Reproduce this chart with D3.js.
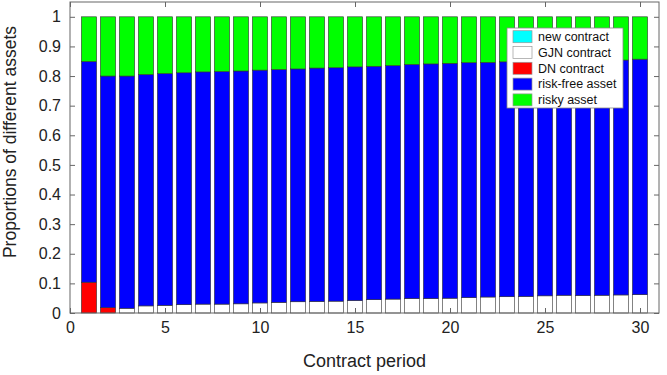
<!DOCTYPE html>
<html lang="en">
  <head>
    <meta charset="utf-8">
    <title>Proportions of different assets</title>
    <script type="text/javascript" src="https://cdn.jsdelivr.net/npm/d3@7"></script>
    <style>
      body { margin: 0; background: #fff; }
      text { font-family: "Liberation Sans", Arial, sans-serif; }
    </style>
  </head>
  <body>
    <script type="text/javascript">
    // contract periods 1..30
    var periods = d3.range(1, 31);

    // series values (bottom of stack first)
    var newContract = periods.map(function() { return 0; });
    var gjnContract = [0, 0, 0.016, 0.024, 0.026, 0.028, 0.030, 0.030, 0.031, 0.034,
                       0.036, 0.038, 0.039, 0.040, 0.042, 0.045, 0.047, 0.049, 0.049, 0.050,
                       0.052, 0.054, 0.055, 0.056, 0.058, 0.060, 0.059, 0.060, 0.061, 0.062];
    var dnContract = [0.104, 0.018, 0, 0, 0, 0, 0, 0, 0, 0,
                      0, 0, 0, 0, 0, 0, 0, 0, 0, 0,
                      0, 0, 0, 0, 0, 0, 0, 0, 0, 0];
    // top of the blue part (everything but the risky asset)
    var nonRisky = [0.849, 0.800, 0.800, 0.805, 0.808, 0.811, 0.814, 0.815, 0.817, 0.820,
                    0.822, 0.824, 0.827, 0.828, 0.831, 0.833, 0.835, 0.839, 0.841, 0.843,
                    0.845, 0.846, 0.848, 0.849, 0.850, 0.851, 0.852, 0.853, 0.854, 0.857];

    var seriesNames = ["new contract", "GJN contract", "DN contract", "risk-free asset", "risky asset"];
    var seriesColors = ["#00ffff", "#ffffff", "#ff0000", "#0000ff", "#00ff00"];

    var xTicks = [0, 5, 10, 15, 20, 25, 30];
    var yTicks = d3.range(0, 11).map(function(i) { return i / 10; });

    // build rows for the stack
    var rows = periods.map(function(p, i) {
      var riskFree = nonRisky[i] - newContract[i] - gjnContract[i] - dnContract[i];
      return {
        period: p,
        "new contract": newContract[i],
        "GJN contract": gjnContract[i],
        "DN contract": dnContract[i],
        "risk-free asset": riskFree,
        "risky asset": 1 - nonRisky[i]
      };
    });

    var w = 667;
    var h = 375;
    var padL = 70, padR = 659, padT = 2, padB = 313;

    var svg = d3.select("body")
                .append("svg")
                .attr("width", w)
                .attr("height", h);

    var xScale = d3.scaleLinear().domain([0, 31]).range([padL, padR]);
    var yScale = d3.scaleLinear().domain([0, 1.05]).range([padB, padT]);
    var barW = (xScale(1) - xScale(0)) * 0.8;

    var layers = d3.stack().keys(seriesNames)(rows);

    var color = d3.scaleOrdinal().domain(seriesNames).range(seriesColors);

    svg.append("g")
       .selectAll("g")
       .data(layers)
       .enter()
       .append("g")
       .attr("fill", function(d) { return color(d.key); })
       .selectAll("rect")
       // skip empty pieces so their edges don't show
       .data(function(d) { return d.filter(function(s) { return s[1] - s[0] > 0; }); })
       .enter()
       .append("rect")
       .attr("x", function(d) { return xScale(d.data.period) - barW / 2; })
       .attr("y", function(d) { return yScale(d[1]); })
       .attr("width", barW)
       .attr("height", function(d) { return yScale(d[0]) - yScale(d[1]); })
       .attr("stroke", "#333")
       .attr("stroke-width", 0.6);

    // axes: ticks inward, box all round
    var axisColor = "#666";

    var xAxis = d3.axisBottom(xScale).tickValues(xTicks).tickSize(-5).tickPadding(9);
    var xAxisTop = d3.axisTop(xScale).tickValues(xTicks).tickSize(-5).tickFormat("");
    var yAxis = d3.axisLeft(yScale).tickValues(yTicks).tickSize(-5).tickPadding(9)
                  .tickFormat(function(d) { return d3.format("~g")(d); });
    var yAxisRight = d3.axisRight(yScale).tickValues(yTicks).tickSize(-5).tickFormat("");

    var gx = svg.append("g").attr("transform", "translate(0," + padB + ")").call(xAxis);
    var gxt = svg.append("g").attr("transform", "translate(0," + padT + ")").call(xAxisTop);
    var gy = svg.append("g").attr("transform", "translate(" + padL + ",0)").call(yAxis);
    var gyr = svg.append("g").attr("transform", "translate(" + padR + ",0)").call(yAxisRight);

    [gx, gxt, gy, gyr].forEach(function(g) {
      g.select(".domain").remove();
      g.selectAll("line").attr("stroke", axisColor);
      g.selectAll("text").attr("fill", "#222").style("font-size", "16px")
       .style("font-family", "'Liberation Sans', Arial, sans-serif");
    });

    svg.append("rect")
       .attr("x", padL).attr("y", padT)
       .attr("width", padR - padL).attr("height", padB - padT)
       .attr("fill", "none").attr("stroke", axisColor).attr("stroke-width", 1);

    // axis labels
    svg.append("text")
       .attr("x", (padL + padR) / 2).attr("y", 367)
       .attr("text-anchor", "middle")
       .style("font-size", "18px").attr("fill", "#222")
       .text("Contract period");

    svg.append("text")
       .attr("transform", "translate(16,142) rotate(-90)")
       .attr("text-anchor", "middle")
       .style("font-size", "17.5px").attr("fill", "#222")
       .text("Proportions of different assets");

    // legend
    var lg = svg.append("g").attr("transform", "translate(507,28)");
    lg.append("rect")
      .attr("width", 116).attr("height", 80)
      .attr("fill", "#fff").attr("stroke", "#888").attr("stroke-width", 0.8);

    var items = lg.selectAll("g.item")
                  .data(seriesNames)
                  .enter()
                  .append("g")
                  .attr("class", "item")
                  .attr("transform", function(d, i) { return "translate(6," + (8.7 + i * 15.8) + ")"; });

    items.append("rect")
         .attr("x", 0).attr("y", -6)
         .attr("width", 19).attr("height", 12)
         .attr("fill", function(d) { return color(d); })
         .attr("stroke", "#999").attr("stroke-width", 0.7);

    items.append("text")
         .attr("x", 25).attr("y", 0)
         .attr("dy", "0.35em")
         .style("font-size", "12.5px").attr("fill", "#111")
         .text(function(d) { return d; });
    </script>
  </body>
</html>
